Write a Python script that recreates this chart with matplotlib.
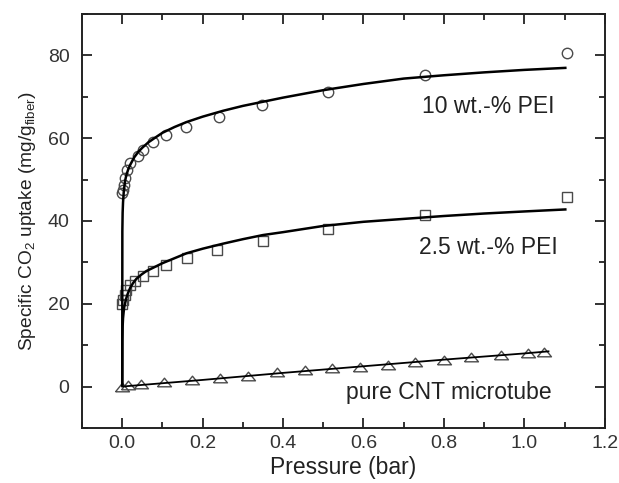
import matplotlib
matplotlib.use("Agg")
import matplotlib.pyplot as plt
from matplotlib.ticker import MultipleLocator

plt.rcParams['font.family'] = ['Liberation Sans', 'DejaVu Sans']
plt.rcParams['mathtext.fontset'] = 'custom'
plt.rcParams['mathtext.rm'] = 'Liberation Sans'
plt.rcParams['mathtext.it'] = 'Liberation Sans:italic'
plt.rcParams['mathtext.bf'] = 'Liberation Sans:bold'

# ---- measured data: 10 wt.-% PEI (circles) ----
pei10_x = [0.0, 0.002, 0.005, 0.008, 0.012, 0.02, 0.038, 0.052, 0.076, 0.108,
           0.158, 0.24, 0.348, 0.512, 0.752, 1.105]
pei10_y = [46.7, 47.5, 48.7, 50.3, 52.4, 54.0, 55.8, 57.2, 59.0, 60.7,
           62.8, 65.1, 68.0, 71.2, 75.3, 80.5]

# ---- measured data: 2.5 wt.-% PEI (squares) ----
pei25_x = [0.0, 0.002, 0.006, 0.010, 0.020, 0.031, 0.051, 0.076, 0.11, 0.161,
           0.236, 0.349, 0.512, 0.752, 1.106]
pei25_y = [19.9, 20.8, 22.1, 23.3, 24.5, 25.6, 26.8, 28.0, 29.4, 31.0,
           32.9, 35.2, 38.0, 41.5, 45.9]

# ---- measured data: pure CNT microtube (triangles) ----
cnt_x = [0.0, 0.014, 0.047, 0.104, 0.173, 0.242, 0.312, 0.385, 0.454, 0.522,
         0.591, 0.66, 0.728, 0.799, 0.868, 0.941, 1.01, 1.049]
cnt_y = [0.0, 0.4, 0.7, 1.0, 1.5, 2.1, 2.6, 3.4, 3.9, 4.4,
         4.8, 5.3, 5.9, 6.5, 7.1, 7.7, 8.2, 8.4]

# ---- fit curves ----
fit10_x = [0, 0.0003, 0.001, 0.002, 0.004, 0.007, 0.01, 0.015, 0.02, 0.03, 0.04,
           0.05, 0.065, 0.08, 0.1, 0.13, 0.16, 0.2, 0.25, 0.3, 0.35, 0.4, 0.5,
           0.6, 0.7, 0.8, 0.9, 1.0, 1.105]
fit10_y = [0, 37.5, 42.0, 44.5, 47.3, 49.6, 51.0, 52.5, 53.6, 55.4, 56.7,
           57.7, 59.0, 60.0, 61.3, 62.7, 63.9, 65.2, 66.6, 67.8, 68.8, 69.8, 71.6,
           73.1, 74.4, 75.2, 75.9, 76.5, 77.0]

fit25_x = [0, 0.0003, 0.001, 0.002, 0.0035, 0.005, 0.0075, 0.01, 0.014, 0.02,
           0.027, 0.035, 0.047, 0.06, 0.077, 0.1, 0.13, 0.16, 0.2, 0.25, 0.3,
           0.35, 0.4, 0.5, 0.6, 0.7, 0.8, 0.9, 1.0, 1.105]
fit25_y = [0, 11.0, 14.5, 16.5, 18.0, 19.2, 20.3, 21.3, 22.5, 23.9,
           25.0, 26.0, 27.0, 27.9, 28.7, 29.8, 31.0, 32.2, 33.3, 34.5, 35.6,
           36.6, 37.3, 38.8, 39.8, 40.5, 41.2, 41.8, 42.3, 42.8]

fitcnt_x = [0, 0.2, 0.4, 0.6, 0.8, 1.0, 1.06]
fitcnt_y = [0, 1.6, 3.3, 4.9, 6.5, 8.0, 8.5]

labels = ["10 wt.-% PEI", "2.5 wt.-% PEI", "pure CNT microtube"]
label_pos = [(0.91, 66.2), (0.91, 32.0), (0.812, -3.0)]

xticks = [0.0, 0.2, 0.4, 0.6, 0.8, 1.0, 1.2]
yticks = [0, 20, 40, 60, 80]

fig = plt.figure(figsize=(6.19, 4.83), dpi=100)
ax = fig.add_axes([0.1325, 0.114, 0.8445, 0.857])

mk_col = '#4a4a4a'
ax.plot(pei10_x, pei10_y, linestyle='none', marker='o', markersize=7.5,
        markerfacecolor='none', markeredgecolor=mk_col, markeredgewidth=1.0)
ax.plot(pei25_x, pei25_y, linestyle='none', marker='s', markersize=7.0,
        markerfacecolor='none', markeredgecolor=mk_col, markeredgewidth=1.0)
tri = [(-1, -0.62), (1, -0.62), (0, 0.62), (-1, -0.62)]
ax.plot(cnt_x, cnt_y, linestyle='none', marker=tri, markersize=10,
        markerfacecolor='none', markeredgecolor=mk_col, markeredgewidth=1.0)

ax.plot(fit10_x, fit10_y, color='black', lw=1.8, solid_capstyle='butt')
ax.plot(fit25_x, fit25_y, color='black', lw=1.8, solid_capstyle='butt')
ax.plot(fitcnt_x, fitcnt_y, color='black', lw=1.3)

for t, (x, y) in zip(labels, label_pos):
    ax.text(x, y, t, ha='center', va='baseline', fontsize=16.5, color='#222222')

ax.set_xlim(-0.1, 1.2)
ax.set_ylim(-10, 90)
ax.set_xticks(xticks)
ax.set_yticks(yticks)
ax.xaxis.set_minor_locator(MultipleLocator(0.1))
ax.yaxis.set_minor_locator(MultipleLocator(10))
ax.tick_params(which='both', direction='in', top=True, right=True,
               labeltop=False, labelright=False, width=1.3, color='#222222')
ax.tick_params(which='major', length=7)
ax.tick_params(which='minor', length=4)
ax.tick_params(axis='x', which='major', pad=5, labelsize=14, labelcolor='#333333')
ax.tick_params(axis='y', which='major', pad=9, labelsize=14, labelcolor='#333333')
ax.set_xticklabels([f"{v:.1f}" for v in xticks])
for s in ax.spines.values():
    s.set_linewidth(1.4)
    s.set_color('#222222')

ax.set_xlabel("Pressure (bar)", fontsize=16.5, color='#222222', labelpad=3)
ax.set_ylabel("Specific CO$_2$ uptake (mg/g$_{\\mathrm{fiber}}$)", fontsize=13.8,
              color='#222222', labelpad=7)

fig.savefig("out.png", dpi=100)
